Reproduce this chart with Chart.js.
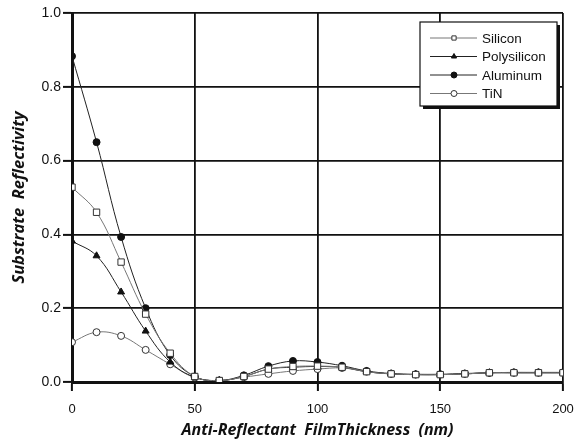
<!DOCTYPE html>
<html>
<head>
<meta charset="utf-8">
<script src="https://cdn.jsdelivr.net/npm/chart.js@4.4.1/dist/chart.umd.min.js"></script>
<style>
  html, body { margin: 0; padding: 0; background: #fff; }
  #wrap { width: 585px; height: 442px; }
</style>
</head>
<body>
<div id="wrap"><canvas id="grafica"></canvas></div>
<script>
// gruix de la capa (nm)
const gruix = [0, 10, 20, 30, 40, 50, 60, 70, 80, 90, 100, 110, 120, 130, 140, 150, 160, 170, 180, 190, 200];

const silici     = [0.528, 0.46, 0.325, 0.184, 0.078, 0.015, 0.004, 0.015, 0.035, 0.042, 0.043, 0.040, 0.028, 0.022, 0.020, 0.020, 0.022, 0.025, 0.025, 0.025, 0.025];
const polisilici = [0.382, 0.342, 0.244, 0.138, 0.054, 0.013, 0.004, 0.015, 0.035, 0.040, 0.042, 0.040, 0.028, 0.022, 0.020, 0.020, 0.022, 0.025, 0.025, 0.025, 0.025];
const alumini    = [0.883, 0.65, 0.393, 0.200, 0.073, 0.015, 0.004, 0.018, 0.043, 0.057, 0.054, 0.044, 0.030, 0.023, 0.021, 0.021, 0.023, 0.025, 0.026, 0.026, 0.026];
const tin        = [0.108, 0.135, 0.125, 0.087, 0.048, 0.012, 0.004, 0.013, 0.022, 0.030, 0.035, 0.038, 0.028, 0.022, 0.020, 0.020, 0.022, 0.025, 0.025, 0.025, 0.025];

const ticksX = [0, 50, 100, 150, 200];
const ticksY = [0, 0.2, 0.4, 0.6, 0.8, 1.0];

const parells = (ys) => ys.map((y, i) => ({ x: gruix[i], y }));

// llegenda dibuixada a mà: caixa amb ombra, línia i marcador
const llegenda = {
    id: 'llegenda',
    afterDraw(chart) {
        const ctx = chart.ctx;
        const x0 = 420, y0 = 22, w = 137, h = 84;
        ctx.save();
        ctx.fillStyle = '#111';
        ctx.fillRect(x0 + 3, y0 + 3, w, h);
        ctx.fillStyle = '#fff';
        ctx.fillRect(x0, y0, w, h);
        ctx.strokeStyle = '#111';
        ctx.lineWidth = 1.2;
        ctx.strokeRect(x0, y0, w, h);
        ctx.font = '13.5px "Liberation Sans", Arial, sans-serif';
        ctx.textBaseline = 'middle';
        chart.data.datasets.forEach((ds, i) => {
            const y = 38 + i * 18.5;
            ctx.strokeStyle = ds.borderColor;
            ctx.lineWidth = 1;
            ctx.beginPath();
            ctx.moveTo(430, y);
            ctx.lineTo(477, y);
            ctx.stroke();
            ctx.fillStyle = ds.pointBackgroundColor;
            ctx.strokeStyle = ds.pointBorderColor;
            Chart.helpers.drawPoint(ctx, { pointStyle: ds.pointStyle, radius: 3, borderWidth: 1 }, 454, y);
            ctx.fillStyle = '#111';
            ctx.fillText(ds.label, 482, y + 1);
        });
        ctx.restore();
    }
};

const ctx = document.getElementById('grafica').getContext('2d');

new Chart(ctx, {
    type: 'line',
    data: {
        datasets: [
            {
                label: 'Silicon',
                data: parells(silici),
                borderColor: '#777',
                borderWidth: 1,
                pointStyle: 'rect',
                pointRadius: 4.5,
                pointBackgroundColor: '#fff',
                pointBorderColor: '#333',
                pointBorderWidth: 1
            },
            {
                label: 'Polysilicon',
                data: parells(polisilici),
                borderColor: '#222',
                borderWidth: 1,
                pointStyle: 'triangle',
                pointRadius: 4,
                pointBackgroundColor: '#111',
                pointBorderColor: '#111',
                pointBorderWidth: 1
            },
            {
                label: 'Aluminum',
                data: parells(alumini),
                borderColor: '#222',
                borderWidth: 1,
                pointStyle: 'circle',
                pointRadius: 3.5,
                pointBackgroundColor: '#111',
                pointBorderColor: '#111',
                pointBorderWidth: 1
            },
            {
                label: 'TiN',
                data: parells(tin),
                borderColor: '#777',
                borderWidth: 1,
                pointStyle: 'circle',
                pointRadius: 3.5,
                pointBackgroundColor: '#fff',
                pointBorderColor: '#333',
                pointBorderWidth: 1
            }
        ]
    },
    options: {
        responsive: true,
        maintainAspectRatio: false,
        animation: false,
        layout: { padding: { top: 13, right: 22, left: 0, bottom: 0 } },
        elements: { line: { tension: 0.4 } },
        scales: {
            x: {
                type: 'linear',
                min: 0,
                max: 200,
                afterFit(scale) { scale.height = 60; },
                afterBuildTicks(scale) { scale.ticks = ticksX.map(v => ({ value: v })); },
                grid: { color: '#111', lineWidth: 1.8, tickLength: 9, tickColor: '#111', tickWidth: 2 },
                border: { color: '#111', width: 3 },
                ticks: {
                    color: '#111',
                    padding: 11,
                    font: { family: '"Liberation Sans", Arial, sans-serif', size: 13 }
                },
                title: {
                    display: true,
                    text: 'Anti-Reflectant  FilmThickness  (nm)',
                    color: '#111',
                    padding: { top: 0, bottom: 2 },
                    font: { family: '"Open Sans", sans-serif', size: 16, style: 'italic', weight: 'bold' }
                }
            },
            y: {
                min: 0,
                max: 1.0,
                afterFit(scale) { scale.width = 72; },
                afterBuildTicks(scale) { scale.ticks = ticksY.map(v => ({ value: v })); },
                grid: { color: '#111', lineWidth: 1.8, tickLength: 9, tickColor: '#111', tickWidth: 2 },
                border: { color: '#111', width: 3 },
                ticks: {
                    color: '#111',
                    padding: 2,
                    callback: v => v.toFixed(1),
                    font: { family: '"Liberation Sans", Arial, sans-serif', size: 14 }
                },
                title: {
                    display: true,
                    text: 'Substrate  Reflectivity',
                    color: '#111',
                    padding: { top: 9, bottom: 0 },
                    font: { family: '"Open Sans", sans-serif', size: 16.5, style: 'italic', weight: 'bold' }
                }
            }
        },
        plugins: {
            legend: { display: false },
            tooltip: { enabled: false }
        }
    },
    plugins: [llegenda]
});
</script>
</body>
</html>
